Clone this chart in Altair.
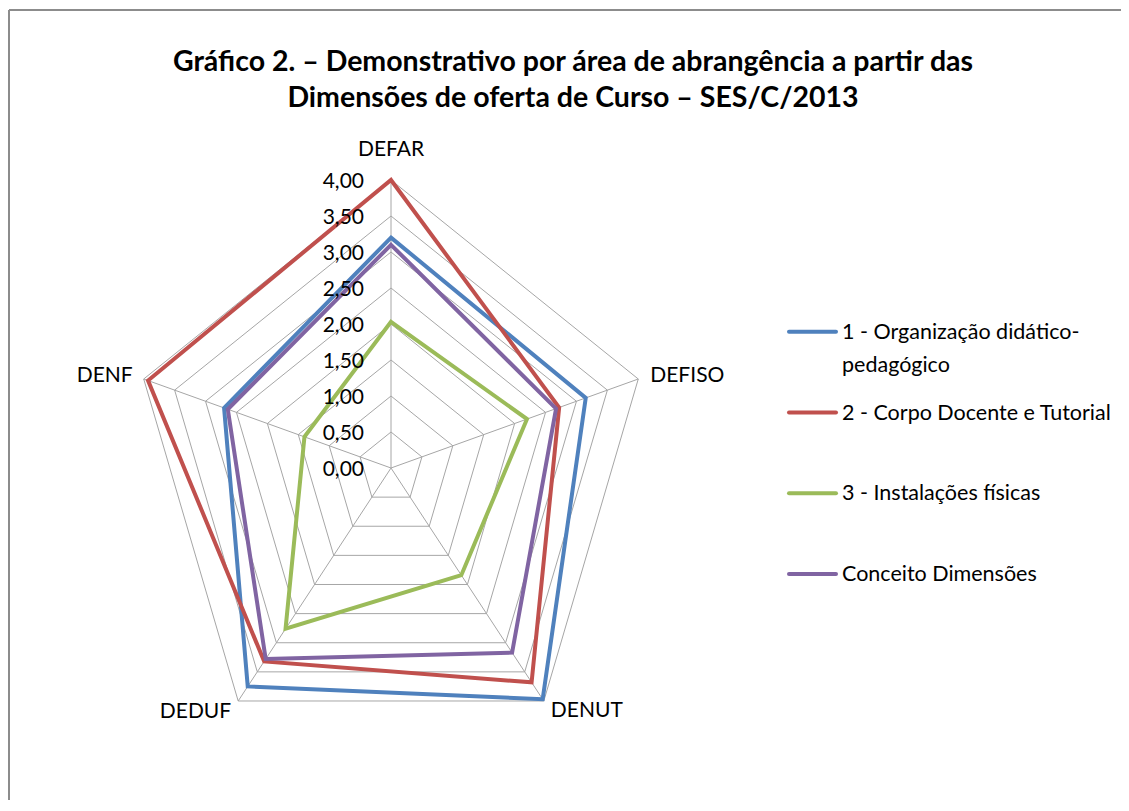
import altair as alt
import pandas as pd

# ---- data ----
axes_names = ["DEFAR", "DEFISO", "DENUT", "DEDUF", "DENF"]
series_names = [
    "1 - Organização didático-pedagógico",
    "2 - Corpo Docente e Tutorial",
    "3 - Instalações físicas",
    "Conceito Dimensões",
]
legend_labels = [
    "1 - Organização didático-\npedagógico",
    "2 - Corpo Docente e Tutorial",
    "3 - Instalações físicas",
    "Conceito Dimensões",
]
org = [3.20, 3.15, 3.97, 3.75, 2.70]
corpo = [4.00, 2.72, 3.68, 3.32, 3.93]
inst = [2.03, 2.20, 1.84, 2.76, 1.40]
conceito = [3.10, 2.67, 3.17, 3.28, 2.64]
series_values = [org, corpo, inst, conceito]
colors = ["#4F81BD", "#C0504D", "#9BBB59", "#8064A2"]
tick_values = [0.0, 0.5, 1.0, 1.5, 2.0, 2.5, 3.0, 3.5, 4.0]
tick_labels = ["0,00", "0,50", "1,00", "1,50", "2,00", "2,50", "3,00", "3,50", "4,00"]
r_max = 4.0
title_text = ("Gráfico 2. – Demonstrativo por área de abrangência a partir das\n"
              "Dimensões de oferta de Curso – SES/C/2013")

FONT = "Lato"

# ---- tables ----
n = len(axes_names)
series_rows = []
for s, name in enumerate(series_names):
    for i, a in enumerate(axes_names):
        series_rows.append({"series": name, "s": s, "idx": i, "axis": a, "value": series_values[s][i]})
series_df = pd.DataFrame(series_rows)

ring_rows = [{"level": lv, "idx": i} for lv in tick_values[1:] for i in range(n)]
ring_df = pd.DataFrame(ring_rows)
spoke_df = pd.DataFrame({"idx": list(range(n)), "value": [r_max] * n})
tick_df = pd.DataFrame({"value": tick_values, "label": tick_labels})
side = ["top", "right", "right", "left", "left"]
dxs = [0, 12, 7, -7, -11]
dys = [-30, -3, 10, 11, -3]
label_df = pd.DataFrame({"axis": axes_names, "idx": list(range(n)), "value": [r_max] * n,
                         "side": side})
legend_df = pd.DataFrame({"label": legend_labels, "row": list(range(len(legend_labels))),
                          "series": series_names})

# ---- scales ----
W, H = 1113, 792
cx, cy = 383, 460
ux, uy = 65.0, 72.0
xs = alt.Scale(domain=[-cx / ux, (W - cx) / ux], nice=False, zero=False)
ys = alt.Scale(domain=[(cy - H) / uy, cy / uy], nice=False, zero=False)
row0, rstep = 323.7, 80.8
ls = alt.Scale(domain=[-row0 / rstep, (H - row0) / rstep], nice=False, zero=False, reverse=True)

ANG = "2*PI*datum.idx/5"
X = alt.X("x:Q", scale=xs, axis=None)
Y = alt.Y("y:Q", scale=ys, axis=None)
color_scale = alt.Scale(domain=series_names, range=colors)
GRID = "#A6A6A6"

rings = alt.Chart(ring_df).transform_calculate(
    x=f"datum.level*sin({ANG})", y=f"datum.level*cos({ANG})"
).mark_line(interpolate="linear-closed", stroke=GRID, strokeWidth=1).encode(
    x=X, y=Y, detail="level:N", order="idx:Q"
)

spokes = alt.Chart(spoke_df).transform_calculate(
    x=f"datum.value*sin({ANG})", y=f"datum.value*cos({ANG})", x0="0", y0="0"
).mark_rule(stroke=GRID, strokeWidth=1).encode(
    x=alt.X("x0:Q", scale=xs, axis=None), y=alt.Y("y0:Q", scale=ys, axis=None),
    x2="x:Q", y2="y:Q"
)

lines = alt.Chart(series_df).transform_calculate(
    x=f"datum.value*sin({ANG})", y=f"datum.value*cos({ANG})"
).mark_line(interpolate="linear-closed", strokeWidth=4, strokeJoin="miter").encode(
    x=X, y=Y,
    color=alt.Color("series:N", scale=color_scale, legend=None),
    detail="s:O",
    order="idx:Q",
)

ticks = alt.Chart(tick_df).transform_calculate(x="0", y="datum.value").mark_text(
    align="right", baseline="middle", dx=-27, dy=2, font=FONT, fontSize=21, color="#000000"
).encode(x=X, y=Y, text="label:N")

def axis_label_layer(sd, align, dx, dy):
    return alt.Chart(label_df).transform_filter(f"datum.axis == '{sd}'").transform_calculate(
        x=f"datum.value*sin({ANG})", y=f"datum.value*cos({ANG})"
    ).mark_text(align=align, baseline="middle", dx=dx, dy=dy, font=FONT, fontSize=21,
                color="#000000").encode(x=X, y=Y, text="axis:N")

alabels = []
for i, a in enumerate(axes_names):
    al = {"top": "center", "right": "left", "left": "right"}[side[i]]
    alabels.append(axis_label_layer(a, al, dxs[i], dys[i]))

leg_lines = alt.Chart(legend_df).mark_rule(strokeWidth=4, strokeCap="round").encode(
    x=alt.value(781), x2=alt.value(828),
    y=alt.Y("row:Q", scale=ls, axis=None),
    color=alt.Color("series:N", scale=color_scale, legend=None),
)
leg_text = alt.Chart(legend_df).mark_text(
    align="left", baseline="alphabetic", dy=7, lineBreak="\n", lineHeight=33,
    font=FONT, fontSize=21.5, color="#000000"
).encode(x=alt.value(834), y=alt.Y("row:Q", scale=ls, axis=None), text="label:N")

title_df = pd.DataFrame({"t": [title_text]})
title = alt.Chart(title_df).mark_text(
    align="center", baseline="alphabetic", lineBreak="\n", lineHeight=36,
    font=FONT, fontSize=28.5, fontWeight="bold", color="#000000"
).encode(x=alt.value(565), y=alt.value(63), text="t:N")

# frame (top and left edges only)
frame_df = pd.DataFrame({"k": [0]})
frame_left = alt.Chart(frame_df).mark_rule(stroke="#8C8C8C", strokeWidth=2).encode(
    x=alt.value(1), y=alt.value(2), y2=alt.value(H + 20))
frame_top = alt.Chart(frame_df).mark_rule(stroke="#8C8C8C", strokeWidth=2).encode(
    x=alt.value(1), x2=alt.value(W + 20), y=alt.value(2))

chart = alt.layer(
    rings, spokes, lines, ticks, *alabels, leg_lines, leg_text, title, frame_left, frame_top
).resolve_scale(y="independent").properties(
    width=W, height=H, padding=0, autosize=alt.AutoSizeParams(type="none")
).configure_view(stroke="transparent", strokeWidth=0)

chart.save("out.html", embed_options={"renderer": "svg", "actions": False})
